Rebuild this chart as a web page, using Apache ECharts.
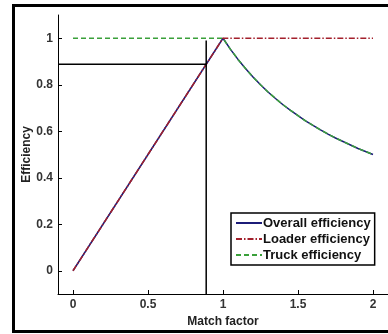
<!DOCTYPE html>
<html>
<head>
<meta charset="utf-8">
<script src="https://cdn.jsdelivr.net/npm/echarts@6/dist/echarts.min.js"></script>
<style>
  html, body { margin: 0; padding: 0; background: #fff; }
  #chart { width: 388px; height: 334px; }
</style>
</head>
<body>
<div id="chart"></div>
<script>
const matchFactor = [0, 0.5, 1.0, 1.05, 1.1, 1.15, 1.2, 1.25, 1.3, 1.35, 1.4, 1.45, 1.5, 1.55, 1.6, 1.65, 1.7, 1.75, 1.8, 1.85, 1.9, 1.95, 2.0];
const overallEff = [0, 0.5, 1.0, 0.952, 0.909, 0.87, 0.833, 0.8, 0.769, 0.741, 0.714, 0.69, 0.667, 0.645, 0.625, 0.606, 0.588, 0.571, 0.556, 0.541, 0.526, 0.513, 0.5];
const loaderEff  = [0, 0.5, 1.0, 1, 1, 1, 1, 1, 1, 1, 1, 1, 1, 1, 1, 1, 1, 1, 1, 1, 1, 1, 1];
const truckEff   = [1, 1, 1.0, 0.952, 0.909, 0.87, 0.833, 0.8, 0.769, 0.741, 0.714, 0.69, 0.667, 0.645, 0.625, 0.606, 0.588, 0.571, 0.556, 0.541, 0.526, 0.513, 0.5];
const xTicks = [0, 0.5, 1, 1.5, 2];
const yTicks = [0, 0.2, 0.4, 0.6, 0.8, 1];
const operatingPoint = [0.888, 0.888];

const pairs = (xs, ys) => xs.map((x, i) => [x, ys[i]]);
const font = 'Liberation Sans, Arial, sans-serif';

const chart = echarts.init(document.getElementById('chart'), null, { renderer: 'canvas' });

const option = {
  backgroundColor: '#ffffff',
  animation: false,
  grid: { left: 58, right: 0, top: 15, bottom: 40 },
  legend: {
    orient: 'vertical',
    left: 231, top: 213,
    data: ['Overall efficiency', 'Loader efficiency', 'Truck efficiency'],
    borderColor: '#000', borderWidth: 1.5, backgroundColor: '#fff',
    padding: [3, 4, 3, 4],
    itemWidth: 26, itemHeight: 14, itemGap: 2,
    itemStyle: { opacity: 0 },
    textStyle: { fontFamily: font, fontWeight: 'bold', fontSize: 13, lineHeight: 14, color: '#111', padding: [0, 0, 0, -4] }
  },
  xAxis: {
    type: 'value', min: -0.1, max: 2.1,
    name: 'Match factor', nameLocation: 'middle', nameGap: 16,
    nameTextStyle: { fontFamily: font, fontWeight: 'bold', fontSize: 12, color: '#222' },
    axisLine: { show: true, onZero: false, lineStyle: { color: '#000', width: 1 } },
    axisTick: { show: true, inside: true, length: 4, customValues: xTicks, lineStyle: { color: '#000' } },
    axisLabel: { customValues: xTicks, margin: 5, fontFamily: font, fontWeight: 'bold', fontSize: 12, color: '#333' },
    splitLine: { show: false }
  },
  yAxis: {
    type: 'value', min: -0.1, max: 1.1,
    name: 'Efficiency', nameLocation: 'middle', nameGap: 25, nameMoveOverlap: false,
    nameTextStyle: { fontFamily: font, fontWeight: 'bold', fontSize: 12, color: '#222' },
    axisLine: { show: true, onZero: false, lineStyle: { color: '#000', width: 1 } },
    axisTick: { show: true, inside: true, length: 4, customValues: yTicks, lineStyle: { color: '#000' } },
    axisLabel: { customValues: yTicks, margin: 5, fontFamily: font, fontWeight: 'bold', fontSize: 12, color: '#333' },
    splitLine: { show: false }
  },
  series: [
    {
      name: 'Overall efficiency', type: 'line', symbol: 'none',
      data: pairs(matchFactor, overallEff),
      itemStyle: { color: '#1c1c78' }, lineStyle: { color: '#1c1c78', width: 1.5 }
    },
    {
      name: 'Loader efficiency', type: 'line', symbol: 'none',
      data: pairs(matchFactor, loaderEff),
      itemStyle: { color: '#a3202c' }, lineStyle: { color: '#a3202c', width: 1.5, type: [6, 2, 1.5, 2] }
    },
    {
      name: 'Truck efficiency', type: 'line', symbol: 'none',
      data: pairs(matchFactor, truckEff),
      itemStyle: { color: '#3aa03a' }, lineStyle: { color: '#3aa03a', width: 1.5, type: [5, 3] }
    },
    {
      name: 'hline', type: 'line', symbol: 'none', silent: true,
      data: [[-0.1, operatingPoint[1]], [operatingPoint[0], operatingPoint[1]]],
      lineStyle: { color: '#000', width: 1.5 }
    },
    {
      name: 'vline', type: 'line', symbol: 'none', silent: true,
      data: [[operatingPoint[0], -0.1], [operatingPoint[0], 0.99]],
      lineStyle: { color: '#000', width: 1.5 }
    }
  ],
  graphic: [{
    type: 'polyline', silent: true, z: 100,
    shape: { points: [[395, 5.5], [13.5, 5.5], [13.5, 331.5], [395, 331.5]] },
    style: { fill: 'none', stroke: '#000', lineWidth: 3 }
  }]
};

chart.setOption(option);
</script>
</body>
</html>
